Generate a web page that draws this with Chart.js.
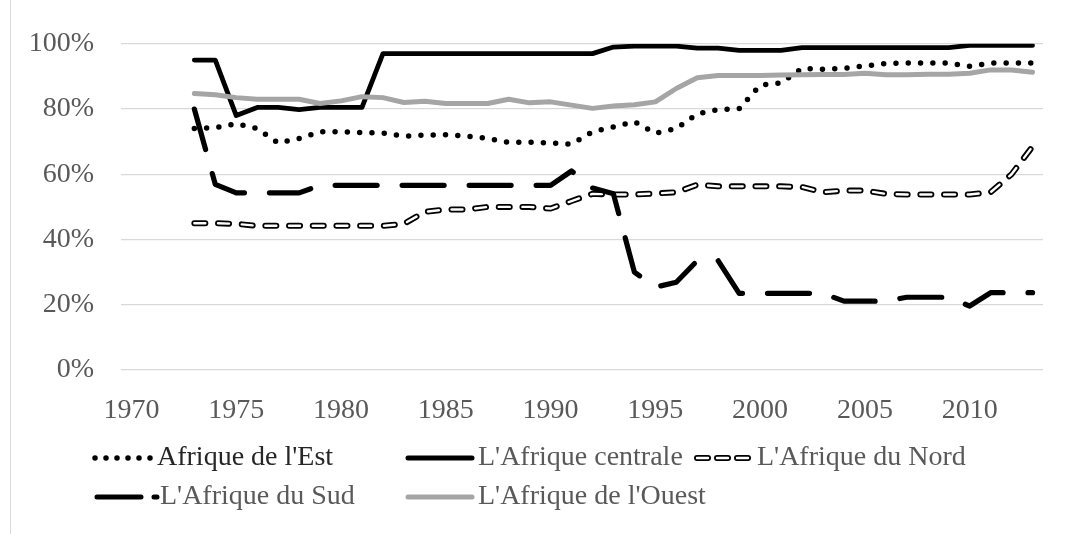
<!DOCTYPE html>
<html>
<head>
<meta charset="utf-8">
<script src="https://cdn.jsdelivr.net/npm/chart.js@4.4.0/dist/chart.umd.min.js"></script>
<style>
  body { margin: 0; background: #fff; }
  #wrap { position: relative; width: 1077px; height: 534px; }
  #cadre { position: absolute; left: 10px; top: 0; width: 1px; height: 534px; background: #d9d9d9; }
  canvas { position: absolute; left: 0; top: 0; }
</style>
</head>
<body>
<div id="wrap">
  <div id="cadre"></div>
  <canvas id="graphique" width="1077" height="534"></canvas>
</div>
<script>
// Années (axe horizontal)
const annees = ['1970', '1971', '1972', '1973', '1974', '1975', '1976', '1977', '1978', '1979',
    '1980', '1981', '1982', '1983', '1984', '1985', '1986', '1987', '1988', '1989',
    '1990', '1991', '1992', '1993', '1994', '1995', '1996', '1997', '1998', '1999',
    '2000', '2001', '2002', '2003', '2004', '2005', '2006', '2007', '2008', '2009',
    '2010', '2011', '2012', '2013'];

// Valeurs en %, de 1970 à 2013 (pas de données avant 1973)
const afriqueEst = [null, null, null,
    74, 74.3, 75.5, 74, 69.6, 71, 73, 73, 72.8,
    72.6, 71.7, 72, 72.1, 71.7, 71, 69.8, 69.8, 69.6, 69.2,
    73, 74.5, 76.1, 72.6, 74, 78.5, 79.8, 80.1, 87.3, 88,
    92.5, 92.2, 92.5, 93.2, 94, 94.1, 94.1, 94.1, 93.1, 94.1, 94.1, 94.1];

const afriqueCentrale = [null, null, null,
    95, 95, 78, 80.5, 80.5, 79.8, 80.5, 80.5, 80.5,
    97, 97, 97, 97, 97, 97, 97, 97, 97, 97, 97,
    99, 99.3, 99.3, 99.3, 98.7, 98.7, 98, 98, 98,
    98.8, 98.8, 98.8, 98.8, 98.8, 98.8, 98.8, 98.8, 99.5, 99.5, 99.5, 99.5];

const afriqueNord = [null, null, null,
    45, 45, 44.8, 44.2, 44.2, 44.2, 44.2, 44.2, 44.2, 44.2,
    44.8, 48.5, 49.2, 49.2, 50, 50, 50, 49.5, 51.8, 54,
    53.8, 53.8, 54.1, 54.5, 56.8, 56.3, 56.3, 56.3, 56.3, 56.1,
    54.5, 55, 55, 54, 53.8, 53.8, 53.8, 53.8, 54.5, 60, 68.5];

const afriqueSud = [null, null, null,
    80, 56.9, 54.3, 54.3, 54.3, 54.3, 56.6,
    56.6, 56.6, 56.6, 56.6, 56.6, 56.6, 56.6, 56.6, 56.6, 56.6, 56.6,
    61, 55.8, 54,
    30, 25.4, 26.9, 33.5, 33.5, 23.5, 23.5, 23.5, 23.5, 23.5,
    21.1, 21.1, 21.1, 22.3, 22.3, 22.3, 19.6, 23.7, 23.7, 23.7];

const afriqueOuest = [null, null, null,
    84.8, 84.4, 83.5, 83, 83, 83, 81.7, 82.5, 83.8, 83.5,
    82, 82.4, 81.7, 81.7, 81.7, 83, 81.9, 82.2, 81.2, 80.2,
    80.9, 81.3, 82.2, 86.3, 89.6, 90.3, 90.3, 90.3, 90.4, 90.5,
    90.6, 90.6, 91, 90.5, 90.5, 90.7, 90.7, 91, 92, 92, 91.3];

const graduationsY = [0, 20, 40, 60, 80, 100];

const police = "'Liberation Serif', 'Times New Roman', serif";
const gris = '#595959';

// styles des séries
const tirets = {
    est: [0, 12.3],
    nord: [11, 12.7],
    sud: [42, 25]
};

// légende dessinée à la main (colonnes alignées comme dans Excel)
const legendePlugin = {
    id: 'legendeMaison',
    afterDraw: function (chart) {
        const ctx = chart.ctx;
        const items = [
            { texte: "Afrique de l'Est", x: 95, y: 458, x2: 151, tx: 157, couleur: '#262626', style: 'est' },
            { texte: "L'Afrique centrale", x: 408, y: 458, x2: 472, tx: 478, couleur: gris, style: 'centrale' },
            { texte: "L'Afrique du Nord", x: 697, y: 458, x2: 750, tx: 757, couleur: gris, style: 'nord' },
            { texte: "L'Afrique du Sud", x: 97, y: 497, x2: 157, tx: 160, couleur: gris, style: 'sud' },
            { texte: "L'Afrique de l'Ouest", x: 408, y: 497, x2: 472, tx: 478, couleur: gris, style: 'ouest' }
        ];
        ctx.save();
        ctx.lineCap = 'round';
        items.forEach(item => {
            const trait = (couleur, largeur, dash) => {
                ctx.beginPath();
                ctx.setLineDash(dash);
                ctx.strokeStyle = couleur;
                ctx.lineWidth = largeur;
                ctx.moveTo(item.x, item.y);
                ctx.lineTo(item.x2, item.y);
                ctx.stroke();
            };
            if (item.style === 'est') trait('#000', 5.5, [0, 11]);
            if (item.style === 'centrale') trait('#000', 5, []);
            if (item.style === 'nord') {
                trait('#000', 6, [11, 9]);
                trait('#fff', 2.4, [11, 9]);
            }
            if (item.style === 'sud') trait('#000', 5, [44, 13]);
            if (item.style === 'ouest') trait('#a5a5a5', 5, []);
            ctx.setLineDash([]);
            ctx.fillStyle = item.couleur;
            ctx.font = '28px ' + police;
            ctx.textBaseline = 'middle';
            ctx.fillText(item.texte, item.tx, item.y);
        });
        ctx.restore();
    }
};

const serie = (label, data, couleur, largeur, dash, ordre) => ({
    label: label,
    data: data,
    borderColor: couleur,
    backgroundColor: couleur,
    borderWidth: largeur,
    borderDash: dash,
    borderCapStyle: 'round',
    borderJoinStyle: 'round',
    pointRadius: 0,
    pointHoverRadius: 0,
    tension: 0,
    fill: false,
    order: ordre
});

new Chart(document.getElementById('graphique'), {
    type: 'line',
    data: {
        labels: annees,
        datasets: [
            serie("Afrique de l'Est", afriqueEst, '#000', 5.5, tirets.est, 6),
            serie("L'Afrique centrale", afriqueCentrale, '#000', 4.8, [], 5),
            serie("L'Afrique du Nord", afriqueNord, '#000', 6, tirets.nord, 4),
            serie("L'Afrique du Nord (int.)", afriqueNord, '#fff', 2.4, tirets.nord, 3),
            serie("L'Afrique du Sud", afriqueSud, '#000', 5.2, tirets.sud, 2),
            serie("L'Afrique de l'Ouest", afriqueOuest, '#a5a5a5', 5, [], 1)
        ]
    },
    options: {
        responsive: false,
        animation: false,
        layout: { padding: { left: 0, right: 34, top: 42, bottom: 0 } },
        plugins: {
            legend: { display: false },
            tooltip: { enabled: false }
        },
        scales: {
            x: {
                type: 'category',
                offset: true,
                grid: { display: false },
                border: { display: false },
                ticks: {
                    autoSkip: false,
                    maxRotation: 0,
                    padding: 16,
                    color: gris,
                    font: { family: police, size: 28 },
                    callback: function (value, index) {
                        const a = annees[index];
                        return Number(a) % 5 === 0 ? a : '';
                    }
                },
                afterFit: function (scale) { scale.height = 164; }
            },
            y: {
                min: 0,
                max: 100,
                afterBuildTicks: function (scale) {
                    scale.ticks = graduationsY.map(v => ({ value: v }));
                },
                grid: { color: '#d9d9d9', lineWidth: 1.3, drawTicks: false },
                border: { display: false },
                ticks: {
                    padding: 27,
                    color: gris,
                    font: { family: police, size: 28 },
                    callback: v => v + '%'
                },
                afterFit: function (scale) { scale.width = 121; }
            }
        }
    },
    plugins: [legendePlugin]
});
</script>
</body>
</html>
